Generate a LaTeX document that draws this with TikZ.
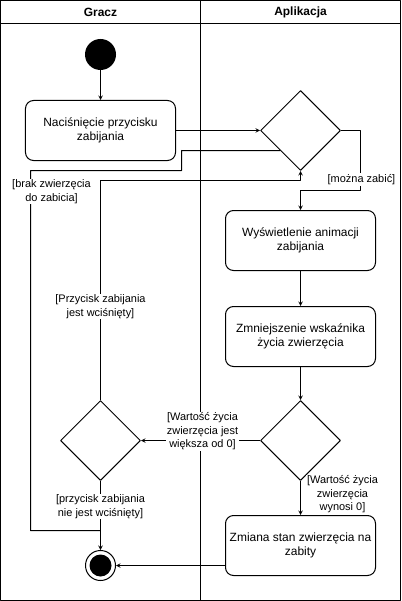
\documentclass[tikz,border=0pt]{standalone}
\usepackage{fontspec}
\setmainfont{Liberation Sans}
\usepackage{tikz}
\usetikzlibrary{shapes.geometric, arrows}
\tikzstyle{arrow} = [->,>=stealth]
\tikzstyle{action} = [draw, rounded corners=8bp, minimum width=150bp, minimum height=60bp, inner sep=2bp, align=center, font=\fontsize{12}{14}\selectfont]
\tikzstyle{decision} = [draw, diamond, minimum width=80bp, minimum height=80bp, inner sep=0pt]
\tikzstyle{guard} = [fill=white, align=center, inner sep=1pt, font=\fontsize{11}{13.5}\selectfont]
\tikzstyle{lane} = [font=\bfseries\fontsize{12}{14}\selectfont]

\begin{document}
\begin{tikzpicture}[x=1bp,y=-1bp,line width=1bp,line join=round]
                \useasboundingbox (-0.5,-0.5) rectangle (400.5,600.5);
                % swimlanes
                \draw (0,0) rectangle (400,600);
                \draw (0,23) -- (400,23);
                \draw (200,0) -- (200,600);
                \node[lane] (gracz) at (100,12) {Gracz};
                \node[lane] (aplikacja) at (300,12) {Aplikacja};
                % nodes
                \node[circle, fill=black, minimum size=31bp, inner sep=0pt] (start) at (100,54) {};
                \node[action] (nacisniecie) at (100,130) {Naciśnięcie przycisku\\zabijania};
                \node[decision] (czyzabic) at (300,130) {};
                \node[action] (animacja) at (300,240) {Wyświetlenie animacji\\zabijania};
                \node[action] (zmniejszenie) at (300,336) {Zmniejszenie wskaźnika\\życia zwierzęcia};
                \node[decision] (czyzycie) at (300,440) {};
                \node[decision] (czywcisniety) at (100,440) {};
                \node[action] (zabity) at (300,545) {Zmiana stan zwierzęcia na\\zabity};
                \node[circle, draw, minimum size=30bp, inner sep=0pt] (koniec) at (100,565) {};
                \node[circle, fill=black, minimum size=22bp, inner sep=0pt] (koniecsrodek) at (koniec) {};
                \coordinate (zlacze) at (100,530);
                % connectors
                \draw[arrow] (start) -- (nacisniecie);
                \draw[arrow] (nacisniecie) -- (czyzabic);
                \draw (czyzabic.south west) -- (181,150) |- (30,170) |- (zlacze);
                \node[guard] (brak) at (51,191) {[brak zwierzęcia\\do zabicia]};
                \draw[arrow] (czyzabic.east) -| (360,190) -| (animacja.north);
                \node[guard] (moznazabic) at (361,179) {[można zabić]};
                \draw[arrow] (animacja) -- (zmniejszenie);
                \draw[arrow] (zmniejszenie) -- (czyzycie);
                \draw[arrow] (czyzycie) -- (czywcisniety);
                \node[guard] (wiekszaod) at (202,431) {[Wartość życia\\zwierzęcia jest\\większa od 0]};
                \draw[arrow] (czyzycie) -- (zabity);
                \node[guard] (wynosi) at (342,494) {[Wartość życia\\zwierzęcia\\wynosi 0]};
                \draw[arrow] (czywcisniety.north) |- (300,180) -- (czyzabic.south);
                \node[guard] (wcisniety) at (100,306) {[Przycisk zabijania\\jest wciśnięty]};
                \draw[arrow] (czywcisniety) -- (koniec);
                \node[guard] (niewcisniety) at (100,506) {[przycisk zabijania\\nie jest wciśnięty]};
                \draw[arrow] (zabity.west |- koniec) -- (koniec);
            \end{tikzpicture}
\end{document}
